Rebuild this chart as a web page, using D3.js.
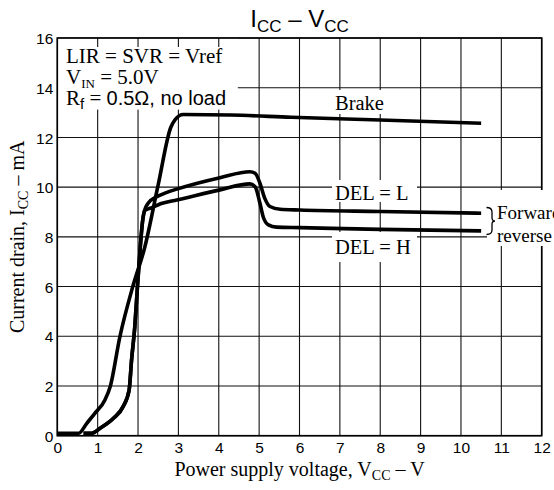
<!DOCTYPE html>
<html>
<head>
<meta charset="utf-8">
<script src="https://cdn.jsdelivr.net/npm/d3@7"></script>
<style>
  html, body { margin: 0; padding: 0; background: #fff; }
  svg { display: block; }
</style>
</head>
<body>
<svg id="chart" width="554" height="490"></svg>
<script>
// ---- data ----
const xTickValues = [0,1,2,3,4,5,6,7,8,9,10,11,12];
const yTickValues = [0,2,4,6,8,10,12,14,16];

const brakeVcc = [0, 0.53, 0.73, 0.93, 1.18, 1.31, 1.55, 1.87, 2.17, 2.5, 2.81, 2.92, 3.12, 4.3, 5.8, 8.0, 10.5];
const brakeIcc = [0.1, 0.1, 0.5, 0.9, 1.44, 1.97, 3.98, 6.0, 7.6, 10.1, 12.4, 12.72, 12.92, 12.9, 12.81, 12.7, 12.57];

const delLVcc = [0.65, 0.85, 1.06, 1.39, 1.63, 1.78, 1.84, 1.92, 1.98, 2.05, 2.11, 2.16, 2.25, 2.45, 2.7, 2.96, 4.03, 4.77, 4.9, 5.02, 5.14, 5.27, 5.52, 6.01, 8.0, 10.5];
const delLIcc = [0.1, 0.1, 0.3, 0.7, 1.17, 1.84, 3.05, 4.39, 5.86, 7.47, 8.6, 9.05, 9.35, 9.6, 9.78, 9.92, 10.38, 10.62, 10.56, 10.16, 9.55, 9.22, 9.11, 9.08, 9.02, 8.95];

const delHVcc = [0.65, 0.85, 1.06, 1.39, 1.63, 1.78, 1.84, 1.92, 1.98, 2.05, 2.11, 2.16, 2.3, 2.6, 2.96, 4.03, 4.77, 4.9, 5.02, 5.1, 5.23, 5.43, 6.01, 8.0, 10.5];
const delHIcc = [0.1, 0.1, 0.3, 0.7, 1.17, 1.84, 3.05, 4.39, 5.86, 7.47, 8.6, 9.05, 9.15, 9.35, 9.48, 9.89, 10.13, 10.02, 9.35, 8.81, 8.48, 8.39, 8.37, 8.3, 8.24];

// ---- layout ----
const svg = d3.select("#chart");
const x = d3.scaleLinear().domain([0, 12]).range([57.3, 541.7]);
const y = d3.scaleLinear().domain([0, 16]).range([435.7, 38]);
const serif = "'Liberation Serif', 'Times New Roman', serif";
const sans = "'Liberation Sans', Arial, sans-serif";

// grid
const grid = svg.append("g").attr("stroke", "#111").attr("stroke-width", 1.1);
grid.selectAll("line.v").data(xTickValues).join("line")
  .attr("x1", d => x(d)).attr("x2", d => x(d))
  .attr("y1", y(0)).attr("y2", y(16));
grid.selectAll("line.h").data(yTickValues).join("line")
  .attr("x1", x(0)).attr("x2", x(12))
  .attr("y1", d => y(d)).attr("y2", d => y(d));

// white label backgrounds
const boxes = [
  [57.8, 38.6, 180, 71],     // condition text
  [305, 90, 84, 24],         // Brake
  [332, 180, 85, 22],        // DEL = L
  [332, 232, 85, 30],        // DEL = H
  [487, 190, 67, 56]         // Forward / reverse
];
svg.append("g").selectAll("rect").data(boxes).join("rect")
  .attr("x", d => d[0]).attr("y", d => d[1]).attr("width", d => d[2]).attr("height", d => d[3])
  .attr("fill", "#fff");

// small inner ticks along the top inside the text box
svg.append("g").attr("stroke", "#111").attr("stroke-width", 1.1)
  .selectAll("line").data([1,2,3,4]).join("line")
  .attr("x1", d => x(d)).attr("x2", d => x(d))
  .attr("y1", y(16)).attr("y2", y(16) + 9);

// frame
svg.append("rect")
  .attr("x", x(0)).attr("y", y(16))
  .attr("width", x(12) - x(0)).attr("height", y(0) - y(16))
  .attr("fill", "none").attr("stroke", "#000").attr("stroke-width", 1.6);
// white out right border behind Forward/reverse label
svg.append("rect").attr("x", 487).attr("y", 190).attr("width", 67).attr("height", 56).attr("fill", "#fff");

// axes tick labels
const xAxis = d3.axisBottom(x).tickValues(xTickValues).tickSize(0).tickPadding(0).tickFormat(d3.format("d"));
const gx = svg.append("g").attr("transform", `translate(0,${y(0)})`).call(xAxis);
gx.select(".domain").remove();
gx.selectAll("text").attr("font-family", sans).attr("font-size", 15.5).attr("fill", "#000")
  .attr("dy", null).attr("y", 17);

const yAxis = d3.axisLeft(y).tickValues(yTickValues).tickSize(0).tickPadding(0).tickFormat(d3.format("d"));
const gy = svg.append("g").attr("transform", `translate(${x(0) - 4},0)`).call(yAxis);
gy.select(".domain").remove();
gy.selectAll("text").attr("font-family", sans).attr("font-size", 15.5).attr("fill", "#000")
  .attr("dy", "0.36em").attr("x", 0);

// curves
const line = d3.line().x(d => x(d[0])).y(d => y(d[1])).curve(d3.curveMonotoneX);
const series = [
  d3.zip(brakeVcc, brakeIcc),
  d3.zip(delLVcc, delLIcc),
  d3.zip(delHVcc, delHIcc)
];
svg.append("g").selectAll("path").data(series).join("path")
  .attr("d", line)
  .attr("fill", "none").attr("stroke", "#000").attr("stroke-width", 3.6)
  .attr("stroke-linejoin", "round").attr("stroke-linecap", "butt");

// title
const title = svg.append("text").attr("x", (x(0) + x(12)) / 2).attr("y", 27)
  .attr("text-anchor", "middle").attr("font-family", sans).attr("font-size", 24).attr("fill", "#000");
title.append("tspan").text("I");
title.append("tspan").attr("font-size", 17).attr("dy", 5).text("CC");
title.append("tspan").attr("dy", -5).text(" – V");
title.append("tspan").attr("font-size", 17).attr("dy", 5).text("CC");

// condition text
const c1 = svg.append("text").attr("x", 66).attr("y", 63).attr("font-family", serif).attr("font-size", 21).text("LIR = SVR = Vref");
const c2 = svg.append("text").attr("x", 66).attr("y", 84).attr("font-family", serif).attr("font-size", 21);
c2.append("tspan").text("V");
c2.append("tspan").attr("font-size", 13).attr("dy", 4).text("IN");
c2.append("tspan").attr("dy", -4).text(" = 5.0V");
const c3 = svg.append("text").attr("x", 66).attr("y", 105).attr("font-family", serif).attr("font-size", 21);
c3.append("tspan").text("R");
c3.append("tspan").attr("font-family", sans).attr("font-size", 15).attr("dy", 4).text("f");
c3.append("tspan").attr("dy", -4).text(" = ");
c3.append("tspan").attr("font-family", sans).attr("font-size", 20).text("0.5Ω, no load");

// curve labels
svg.append("text").attr("x", 335).attr("y", 110).attr("font-family", serif).attr("font-size", 20.5).text("Brake");
svg.append("text").attr("x", 335).attr("y", 200).attr("font-family", serif).attr("font-size", 20.5).text("DEL = L");
svg.append("text").attr("x", 335).attr("y", 254).attr("font-family", serif).attr("font-size", 20.5).text("DEL = H");
svg.append("text").attr("x", 497).attr("y", 219).attr("font-family", serif).attr("font-size", 19).text("Forward");
svg.append("text").attr("x", 497).attr("y", 242).attr("font-family", serif).attr("font-size", 19).text("reverse");
// brace
svg.append("path")
  .attr("d", "M486.5,207.5 Q492,207.5 492,212 L492,217.5 Q492,221 495,221 Q492,221 492,224.5 L492,230 Q492,234.5 486.5,234.5")
  .attr("fill", "none").attr("stroke", "#000").attr("stroke-width", 1.3);

// axis titles
const xt = svg.append("text").attr("x", (x(0) + x(12)) / 2).attr("y", 476)
  .attr("text-anchor", "middle").attr("font-family", serif).attr("font-size", 20);
xt.append("tspan").text("Power supply voltage, V");
xt.append("tspan").attr("font-size", 14).attr("dy", 4).text("CC");
xt.append("tspan").attr("dy", -4).text(" – V");

const yt = svg.append("text").attr("transform", `translate(24,${(y(0) + y(16)) / 2}) rotate(-90)`)
  .attr("text-anchor", "middle").attr("font-family", serif).attr("font-size", 20);
yt.append("tspan").text("Current drain, I");
yt.append("tspan").attr("font-size", 14).attr("dy", 4).text("CC");
yt.append("tspan").attr("dy", -4).text(" – mA");
</script>
</body>
</html>
